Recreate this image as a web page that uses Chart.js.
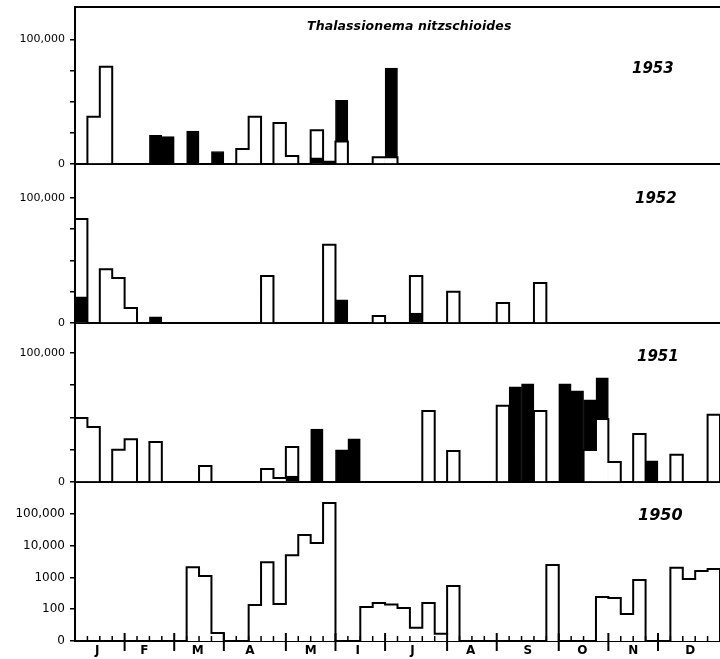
<!DOCTYPE html>
<html>
<head>
<meta charset="utf-8">
<script src="https://cdn.jsdelivr.net/npm/chart.js@4.4.0/dist/chart.umd.min.js"></script>
<style>
  html, body { margin: 0; padding: 0; background: #fff; overflow: hidden; }
  #wrap { position: relative; width: 720px; height: 659px; }
  canvas { position: absolute; left: 0; }
  .lbl { position: absolute; font-family: "DejaVu Sans", sans-serif; font-style: italic; font-weight: bold; color: #000; white-space: nowrap; line-height: 1; }
</style>
</head>
<body>
<div id="wrap">
  <canvas id="c1953" width="720" height="185" style="top:-7px"></canvas>
  <canvas id="c1952" width="720" height="187" style="top:150px"></canvas>
  <canvas id="c1951" width="720" height="187" style="top:309px"></canvas>
  <canvas id="c1950" width="720" height="191" style="top:468px"></canvas>
  <div class="lbl" style="left:307px;top:20px;font-size:12.5px;letter-spacing:0.1px">Thalassionema nitzschioides</div>
  <div class="lbl" style="left:632px;top:61px;font-size:15px">1953</div>
  <div class="lbl" style="left:635px;top:191px;font-size:15px">1952</div>
  <div class="lbl" style="left:637px;top:349px;font-size:15px">1951</div>
  <div class="lbl" style="left:638px;top:507px;font-size:16px">1950</div>
</div>
<script>
// weekly counts, 52 weeks per year; open = white bars, black = filled bars
var open1953 = [0,38000,78000,0,0,0,0,0,0,0,0,0,0,12000,38000,0,33000,6500,0,27000,0,18000,0,0,5500,5500,
                0,0,0,0,0,0,0,0,0,0,0,0,0,0,0,0,0,0,0,0,0,0,0,0,0,0];
var black1953 = [0,0,0,0,0,0,23000,22000,0,26500,0,10000,0,0,0,0,0,0,0,5000,2500,51000,0,0,0,77000,
                 0,0,0,0,0,0,0,0,0,0,0,0,0,0,0,0,0,0,0,0,0,0,0,0,0,0];

var open1952 = [83000,0,43000,36000,12000,0,0,0,0,0,0,0,0,0,0,37500,0,0,0,0,62500,0,0,0,5500,0,
                0,37500,0,0,25000,0,0,0,16000,0,0,32000,0,0,0,0,0,0,0,0,0,0,0,0,0,0];
var black1952 = [21000,0,0,0,0,0,5000,0,0,0,0,0,0,0,0,0,0,0,0,0,0,18500,0,0,0,0,
                 0,8000,0,0,0,0,0,0,0,0,0,0,0,0,0,0,0,0,0,0,0,0,0,0,0,0];

var open1951 = [49600,42600,0,25000,33000,0,31000,0,0,0,12400,0,0,0,0,10000,3100,27000,0,0,0,0,0,0,0,0,
                0,0,55000,0,24000,0,0,0,59000,0,0,55000,0,0,0,24800,48800,15500,0,37200,0,0,21000,0,0,52000];
var black1951 = [0,0,0,0,0,0,0,0,0,0,0,0,0,0,0,0,0,4600,0,41000,0,24800,33300,0,0,0,
                 0,0,0,0,0,0,0,0,0,73600,76000,0,0,76000,70500,63500,80600,0,0,0,16300,0,0,0,0,0];

var open1950 = [0,0,0,0,0,0,0,0,0,2100,1100,18,0,0,135,3000,146,5000,21500,12000,218000,0,0,117,156,140,
                110,26,156,17,540,0,0,0,0,0,0,0,2450,0,0,0,240,225,71,830,0,0,2000,890,1580,1830];
var black1950 = [0,0,0,0,0,0,0,0,0,0,0,0,0,0,0,0,0,0,0,0,0,0,0,0,0,0,
                 0,0,0,0,0,0,0,0,0,0,0,0,0,0,0,0,0,0,0,0,0,0,0,0,0,0];

var monthLabels = ['J','F','M','A','M','I','J','A','S','O','N','D'];
var monthCenters = [1.8,5.6,9.9,14.1,19,22.8,27.2,31.9,36.5,40.9,45,49.6];
var monthEdges = [4,8,12,17,21,25,30,34,39,43,47];

var linTicks = [0,25000,50000,75000,100000];
var logTicks = [10,100,1000,10000,100000];
var logNames = {10:'0',100:'100',1000:'1000',10000:'10,000',100000:'100,000'};

// small weekly ticks and month marks on the bottom axis
var weekTicks = {
  id: 'weekTicks',
  afterDraw: function(chart) {
    var x = chart.scales.x, y0 = chart.chartArea.bottom, ctx = chart.ctx;
    ctx.save();
    ctx.strokeStyle = '#000';
    for (var w = 1; w < 52; w++) {
      var px = x.getPixelForValue(w);
      var big = monthEdges.indexOf(w) >= 0;
      ctx.lineWidth = big ? 2 : 1.5;
      ctx.beginPath();
      ctx.moveTo(px, y0 - (big ? 8 : 5));
      ctx.lineTo(px, y0 + (big ? 10 : 0));
      ctx.stroke();
    }
    ctx.restore();
  }
};

function makePanel(id, open, black, yOpts, bottom) {
  var log = yOpts.type === 'logarithmic';
  var floor = log ? yOpts.min : 0;

  // the taller of the two goes behind, the shorter one in front
  var back = open.map(function(w, i) { return {x: i + 0.5, y: Math.max(w, black[i]) || null}; });
  var front = open.map(function(w, i) { return {x: i + 0.5, y: (w && black[i]) ? Math.min(w, black[i]) : null}; });
  var backCol = function(c) { return open[c.dataIndex] >= black[c.dataIndex] ? '#fff' : '#000'; };
  var frontCol = function(c) { return open[c.dataIndex] < black[c.dataIndex] ? '#fff' : '#000'; };

  // step outline of the open bars
  var outline = [{x: 0, y: floor}].concat(
    open.map(function(w, i) { return {x: i, y: w || floor}; }),
    [{x: 52, y: floor}]);

  var scales = {
    x: {
      type: 'linear', min: 0, max: 52, offset: false,
      grid: {display: false, drawTicks: false, tickLength: 0},
      border: {display: true, color: '#000', width: 2},
      ticks: {display: bottom, autoSkip: false, maxRotation: 0, padding: 3,
              color: '#000', font: {family: 'DejaVu Sans', size: 12, weight: 'bold'},
              callback: function(v, i) { return monthLabels[i]; }},
      afterBuildTicks: function(s) { s.ticks = bottom ? monthCenters.map(function(v) { return {value: v}; }) : []; },
      afterFit: function(s) { s.height = bottom ? 18 : 14; }
    },
    y: Object.assign({
      grid: {display: true, drawOnChartArea: false, drawTicks: true, tickLength: 5, color: '#000', lineWidth: 1.5},
      border: {display: true, color: '#000', width: 2},
      ticks: {color: '#000', padding: 5, font: {family: 'DejaVu Sans', size: log ? 12 : 11},
              callback: function(v) {
                if (log) return logNames[v] || '';
                return v === 100000 ? '100,000' : (v === 0 ? '0' : '');
              }},
      afterBuildTicks: function(s) { s.ticks = (log ? logTicks : linTicks).map(function(v) { return {value: v}; }); },
      afterFit: function(s) { s.width = 75; }
    }, yOpts)
  };
  if (id === 'c1953') {
    scales.top = {
      type: 'linear', position: 'top', min: 0, max: 52, axis: 'x',
      grid: {display: false, drawTicks: false}, ticks: {display: false},
      border: {display: true, color: '#000', width: 2},
      afterFit: function(s) { s.height = 0; }
    };
  }

  return new Chart(document.getElementById(id), {
    type: 'bar',
    data: {
      datasets: [
        {type: 'line', data: outline, stepped: 'before', borderColor: '#000', borderWidth: 2,
         pointRadius: 0, fill: false, borderJoinStyle: 'miter', order: 0},
        {data: front, backgroundColor: frontCol, borderColor: frontCol, borderWidth: 1,
         grouped: false, barPercentage: 1, categoryPercentage: 1, order: 1},
        {data: back, backgroundColor: backCol, borderColor: backCol, borderWidth: 1,
         grouped: false, barPercentage: 1, categoryPercentage: 1, order: 2}
      ]
    },
    options: {
      responsive: false, animation: false,
      layout: {padding: {top: 14, left: 0, right: 0, bottom: 0}},
      plugins: {legend: {display: false}, tooltip: {enabled: false}},
      scales: scales
    },
    plugins: bottom ? [weekTicks] : []
  });
}

makePanel('c1953', open1953, black1953, {type: 'linear', min: 0, max: 126000}, false);
makePanel('c1952', open1952, black1952, {type: 'linear', min: 0, max: 127000}, false);
makePanel('c1951', open1951, black1951, {type: 'linear', min: 0, max: 123000}, false);
makePanel('c1950', open1950, black1950, {type: 'logarithmic', min: 10, max: 1000000}, true);
</script>
</body>
</html>
